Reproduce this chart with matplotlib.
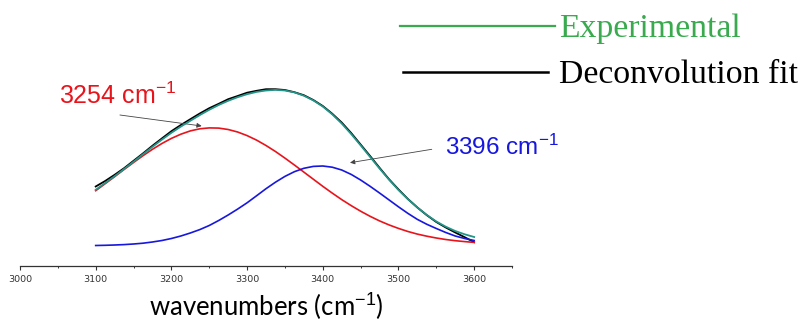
import matplotlib
matplotlib.use("Agg")
import matplotlib.pyplot as plt
from matplotlib.lines import Line2D
from matplotlib.ticker import MultipleLocator

plt.rcParams['mathtext.fontset'] = 'custom'
plt.rcParams['mathtext.rm'] = 'Liberation Sans'
plt.rcParams['mathtext.it'] = 'Liberation Sans:italic'
plt.rcParams['mathtext.bf'] = 'Liberation Sans:bold'

wavenumbers = [3100, 3112.5, 3125, 3137.5, 3150, 3162.5, 3175, 3187.5, 3200, 3212.5,
               3225, 3237.5, 3250, 3262.5, 3275, 3287.5, 3300, 3312.5, 3325, 3337.5,
               3350, 3362.5, 3375, 3387.5, 3400, 3412.5, 3425, 3437.5, 3450, 3462.5,
               3475, 3487.5, 3500, 3512.5, 3525, 3537.5, 3550, 3562.5, 3575, 3587.5, 3600]
experimental = [0.762, 0.830, 0.898, 0.970, 1.043, 1.118, 1.192, 1.264, 1.332, 1.394,
                1.452, 1.509, 1.562, 1.610, 1.652, 1.688, 1.718, 1.741, 1.755, 1.761,
                1.755, 1.736, 1.703, 1.656, 1.595, 1.517, 1.425, 1.320, 1.207, 1.091,
                0.975, 0.864, 0.760, 0.668, 0.585, 0.510, 0.445, 0.393, 0.350, 0.317, 0.290]
fit_total = [0.795, 0.850, 0.912, 0.978, 1.052, 1.126, 1.203, 1.276, 1.348, 1.410,
             1.468, 1.525, 1.578, 1.622, 1.668, 1.700, 1.733, 1.752, 1.768, 1.768,
             1.760, 1.738, 1.708, 1.660, 1.600, 1.523, 1.435, 1.330, 1.215, 1.100,
             0.982, 0.868, 0.766, 0.670, 0.585, 0.508, 0.440, 0.385, 0.335, 0.288, 0.238]
peak_3254 = [0.753, 0.823, 0.893, 0.965, 1.035, 1.103, 1.167, 1.225, 1.276, 1.318,
             1.351, 1.372, 1.381, 1.379, 1.365, 1.340, 1.304, 1.259, 1.205, 1.145,
             1.079, 1.010, 0.939, 0.868, 0.797, 0.729, 0.664, 0.604, 0.548, 0.497,
             0.451, 0.411, 0.376, 0.345, 0.319, 0.298, 0.280, 0.265, 0.253, 0.244, 0.236]
peak_3396 = [0.205, 0.207, 0.210, 0.214, 0.220, 0.228, 0.240, 0.255, 0.275, 0.300,
             0.330, 0.364, 0.405, 0.455, 0.510, 0.569, 0.632, 0.702, 0.773, 0.838,
             0.896, 0.943, 0.977, 0.996, 1.000, 0.988, 0.960, 0.916, 0.860, 0.797,
             0.730, 0.661, 0.592, 0.526, 0.466, 0.417, 0.375, 0.335, 0.300, 0.275, 0.255]

xticks = [3000, 3100, 3200, 3300, 3400, 3500, 3600]
legend_labels = ["Experimental", "Deconvolution fit"]
peak_labels = ["3254 cm$^{-1}$", "3396 cm$^{-1}$"]

TEAL = "#239488"
GREEN = "#3aaa4f"
RED = "#e8141c"
BLUE = "#1717dd"

fig = plt.figure(figsize=(8.04, 3.22), dpi=100)
ax = fig.add_axes([20 / 804, 56 / 322, 492 / 804, 206 / 322])

ax.plot(wavenumbers, fit_total, color="black", lw=1.3, zorder=2)
ax.plot(wavenumbers, peak_3254, color=RED, lw=1.2, zorder=3)
ax.plot(wavenumbers, peak_3396, color=BLUE, lw=1.2, zorder=3)
ax.plot(wavenumbers, experimental, color=TEAL, lw=1.3, zorder=4)

ax.set_xlim(3000, 3650)
ax.set_ylim(0, 2.06)
for s in ["left", "top", "right"]:
    ax.spines[s].set_visible(False)
ax.spines["bottom"].set_linewidth(0.9)
ax.spines["bottom"].set_color("#333333")
ax.set_yticks([])
ax.set_xticks(xticks)
ax.set_xticklabels([str(t) for t in xticks], fontsize=6.8, family="DejaVu Sans", color="#222222")
ax.xaxis.set_minor_locator(MultipleLocator(50))
ax.tick_params(axis="x", which="major", direction="out", length=2.8, width=0.8, pad=3.5, colors="#333333")
ax.tick_params(axis="x", which="minor", direction="out", length=1.6, width=0.7, colors="#333333")
ax.set_xlabel("wavenumbers (cm$^{-1}$)", fontsize=18.5, family="Lato", labelpad=5.5, color="black")

# peak annotations
ax.text(3051, 1.70, peak_labels[0], color=RED, fontsize=18, family="Liberation Sans",
        ha="left", va="center")
ax.annotate("", xy=(3240, 1.40), xytext=(3132, 1.51),
            arrowprops=dict(arrowstyle="-|>", color="#444444", lw=0.6, mutation_scale=7,
                            shrinkA=0, shrinkB=0))
ax.text(3561, 1.19, peak_labels[1], color=BLUE, fontsize=17.5, family="Liberation Sans",
        ha="left", va="center", clip_on=False)
ax.annotate("", xy=(3436, 1.033), xytext=(3544, 1.167),
            arrowprops=dict(arrowstyle="-|>", color="#444444", lw=0.6, mutation_scale=7,
                            shrinkA=0, shrinkB=0))

# legend drawn in figure coordinates
fig.add_artist(Line2D([400 / 804, 555 / 804], [1 - 26 / 322, 1 - 26 / 322],
                      color=GREEN, lw=1.6, transform=fig.transFigure))
fig.add_artist(Line2D([403 / 804, 548 / 804], [1 - 72 / 322, 1 - 72 / 322],
                      color="black", lw=1.8, transform=fig.transFigure))
fig.text(559 / 804, 1 - 36.7 / 322, legend_labels[0], color=GREEN, fontsize=24.3,
         family="Liberation Serif", ha="left", va="baseline")
fig.text(559 / 804, 1 - 83.3 / 322, legend_labels[1], color="black", fontsize=24.3,
         family="Liberation Serif", ha="left", va="baseline")

fig.savefig("out.png", dpi=100)
